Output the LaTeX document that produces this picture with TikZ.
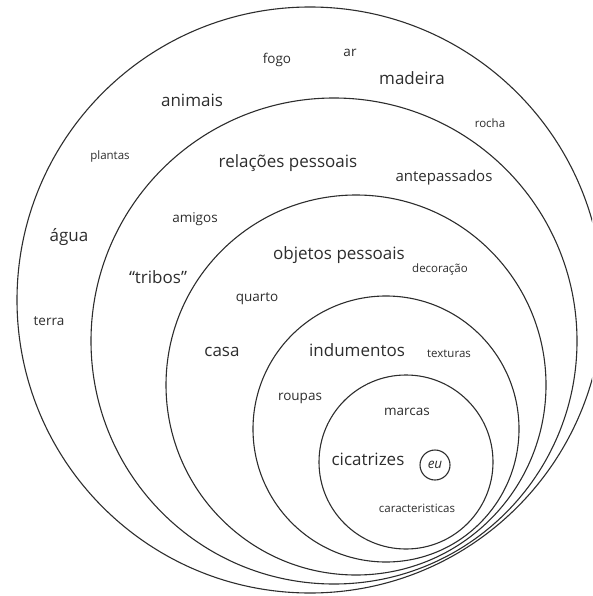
\documentclass[tikz,border=0pt]{standalone}
\usepackage{fontspec}
\setmainfont{Open Sans}
\definecolor{ink}{RGB}{45,45,45}

\begin{document}
\begin{tikzpicture}[x=1pt,y=-1pt,
    ring/.style={draw=ink, line width=1.1pt},
    big/.style={inner sep=0pt, text=ink, font=\fontsize{17}{17}\selectfont},
    mid/.style={inner sep=0pt, text=ink, font=\fontsize{13.5}{13.5}\selectfont},
    small/.style={inner sep=0pt, text=ink, font=\fontsize{11.5}{11.5}\selectfont}]
    \useasboundingbox (0,0) rectangle (592,596);
    \clip (0,0) rectangle (592,596);
    \draw[ring] (310,300) circle (293);
    \draw[ring] (334,341) circle (243);
    \draw[ring] (356,385) circle (190);
    \draw[ring] (386,429) circle (133);
    \draw[ring] (406,462) circle (87);
    \node[mid] (fogo) at (277,60) {fogo};
    \node[mid] (ar) at (350,53) {ar};
    \node[big] (madeira) at (412,78) {madeira};
    \node[big] (animais) at (192,100) {animais};
    \node[small] (rocha) at (490,123) {rocha};
    \node[small] (plantas) at (110,157) {plantas};
    \node[big] (relacoes) at (288,163) {relações pessoais};
    \node[big, font=\fontsize{15}{15}\selectfont] (antepassados) at (444,178) {antepassados};
    \node[mid] (amigos) at (195,219) {amigos};
    \node[big] (agua) at (69,237) {água};
    \node[big] (objetos) at (339,255) {objetos pessoais};
    \node[big] (tribos) at (158,277) {“tribos”};
    \node[small] (decoracao) at (440,270) {decoração};
    \node[mid] (quarto) at (257,299) {quarto};
    \node[mid] (terra) at (49,321) {terra};
    \node[big] (casa) at (222,352) {casa};
    \node[big] (indumentos) at (357,350) {indumentos};
    \node[small] (texturas) at (449,354) {texturas};
    \node[mid] (roupas) at (300,398) {roupas};
    \node[mid] (marcas) at (407,412) {marcas};
    \node[big] (cicatrizes) at (368,459) {cicatrizes};
    \node[mid, circle, draw=ink, line width=1.1pt, minimum size=30pt, font=\fontsize{13.5}{13.5}\selectfont\itshape] (eu) at (435,465) {eu};
    \node[small] (caracteristicas) at (417,508) {caracteristicas};
\end{tikzpicture}
\end{document}
